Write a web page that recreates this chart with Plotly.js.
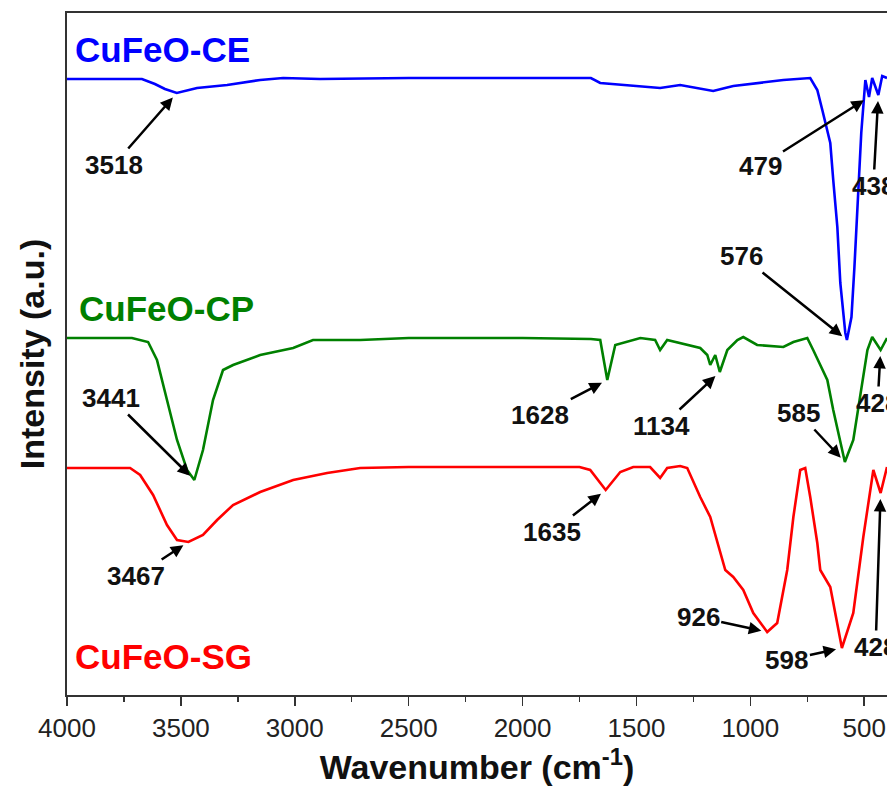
<!DOCTYPE html>
<html>
<head>
<meta charset="utf-8">
<script src="https://cdn.plot.ly/plotly-3.0.1.min.js"></script>
<style>html,body{margin:0;padding:0;background:#fff;}#chart{width:887px;height:792px;}</style>
</head>
<body>
<div id="chart"></div>
<script>
// Wavenumber (cm-1) and intensity (a.u.)
const ceWn = [4000,3671,3614,3570,3518,3429,3297,3152,3051,2889,2500,2000,1700,1659,1396,1308,1163,1075,855,737,706,684,662,649,636,618,605,583,576,556,543,530,513,495,479,465,438,421,400];
const ceI  = [616,616,611,606,602,607,610,615,617,616,617,617,617,612,607,610,604,609,615,617,605,585,565,552,515,468,412,362,355,378,428,488,562,615,598,617,600,619,617];

const cpWn = [4000,3715,3644,3605,3561,3517,3473,3441,3403,3359,3315,3271,3152,3007,2920,2713,2500,2000,1700,1659,1628,1593,1483,1418,1396,1365,1220,1189,1176,1154,1134,1101,1057,1031,970,855,811,750,724,662,636,605,585,548,517,486,465,428,400];
const cpI  = [357,357,353,335,295,255,225,215,245,295,325,330,340,347,355,355,357,357,356,355,315,350,357,355,345,355,347,340,330,340,323,345,355,358,350,348,353,357,345,315,285,255,233,255,300,345,358,345,357];

const sgWn = [4000,3723,3679,3622,3561,3517,3467,3403,3341,3271,3152,3007,2858,2713,2500,2000,1750,1703,1659,1635,1571,1514,1440,1396,1365,1308,1277,1220,1176,1145,1110,1075,1031,987,926,882,838,811,781,759,737,706,693,649,618,598,548,504,460,428,400];
const sgI  = [227,227,220,200,170,155,153,160,175,190,203,215,222,227,228,228,228,225,212,205,223,228,228,217,227,229,227,198,178,152,125,118,105,82,63,72,125,178,225,227,198,152,125,108,72,47,82,158,225,202,228];

const seriesNames  = ['CuFeO-CE','CuFeO-CP','CuFeO-SG'];
const seriesColors = ['#0000FF','#008000','#FF0000'];

const xTickVals = [4000,3500,3000,2500,2000,1500,1000,500];

// peak labels: [text, series index, wavenumber, text offset x, text offset y]
const peakText   = ['3518','479','438','576','3441','1628','1134','585','428','3467','1635','926','598','428'];
const peakSeries = [0,0,0,0,1,1,1,1,1,2,2,2,2,2];
const peakWn     = [3518,479,438,576,3441,1628,1134,585,428,3467,1635,926,598,428];
const peakAx     = [-63,-109,-5,-105,-83,-67,-58,-46,-3,-52,-54,-69,-55,-5];
const peakAy     = [72,69,91,-84,-82,35,54,-49,53,34,42,-15,12,154];

const wnArr = [ceWn, cpWn, sgWn];
const iArr  = [ceI, cpI, sgI];

function interp(wn, ys, x){
  for (let i=0;i<wn.length-1;i++){
    const a=wn[i], b=wn[i+1];
    if ((x<=a && x>=b) || (x>=a && x<=b)){
      const t = (x-a)/(b-a);
      return ys[i] + t*(ys[i+1]-ys[i]);
    }
  }
  return ys[ys.length-1];
}

const traces = seriesNames.map((n,k)=>({
  x: wnArr[k], y: iArr[k], type:'scatter', mode:'lines', name:n,
  line:{color:seriesColors[k], width:2.6}, showlegend:false, hoverinfo:'skip'
}));

const annotations = [];
peakText.forEach((t,i)=>{
  const k = peakSeries[i];
  annotations.push({
    x: peakWn[i], y: interp(wnArr[k], iArr[k], peakWn[i]), xref:'x', yref:'y',
    text: '<b>'+t+'</b>', showarrow:true, arrowhead:2, arrowsize:1, arrowwidth:2.5, arrowcolor:'#000',
    ax: peakAx[i], ay: peakAy[i], standoff:6,
    font:{family:'Liberation Sans, Arial, sans-serif', size:26, color:'#111'}
  });
});

const labelY = [0.946, 0.566, 0.057];
seriesNames.forEach((n,k)=>{
  annotations.push({
    xref:'paper', yref:'paper', x: k===1?0.012:0.007, y: labelY[k], xanchor:'left', yanchor:'middle',
    text:'<b>'+n+'</b>', showarrow:false,
    font:{family:'Liberation Sans, Arial, sans-serif', size:35, color:seriesColors[k]}
  });
});

const layout = {
  width:887, height:792,
  margin:{l:67, r:0, t:13, b:97},
  paper_bgcolor:'#fff', plot_bgcolor:'#fff',
  showlegend:false,
  xaxis:{
    range:[4000,400], tickvals:xTickVals, ticktext:xTickVals.map(String),
    showline:true, linecolor:'#333', linewidth:2, mirror:true,
    ticks:'outside', ticklen:9, tickwidth:1.5, tickcolor:'#333',
    minor:{dtick:250, tick0:0, ticks:'outside', ticklen:5, tickwidth:1.5, tickcolor:'#333', showgrid:false},
    showgrid:false, zeroline:false,
    tickfont:{family:'Liberation Sans, Arial, sans-serif', size:26, color:'#222'},
    title:{text:'<b>Wavenumber (cm<sup>-1</sup>)</b>', font:{family:'Liberation Sans, Arial, sans-serif', size:34, color:'#111'}, standoff:10}
  },
  yaxis:{
    range:[0,682], showline:true, linecolor:'#333', linewidth:2, mirror:false,
    showticklabels:false, ticks:'', showgrid:false, zeroline:false,
    title:{text:'<b>Intensity (a.u.)</b>', font:{family:'Liberation Sans, Arial, sans-serif', size:34, color:'#111'}, standoff:10}
  },
  annotations: annotations
};

Plotly.newPlot('chart', traces, layout, {staticPlot:true, displayModeBar:false});
</script>
</body>
</html>
